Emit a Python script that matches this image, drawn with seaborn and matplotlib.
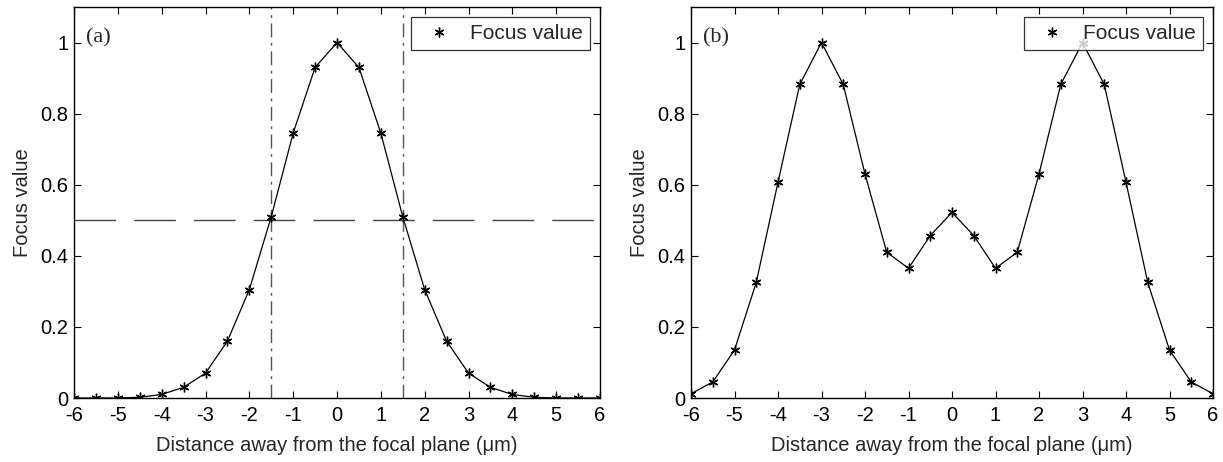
import numpy as np
import pandas as pd
import matplotlib
matplotlib.use("Agg")
import matplotlib.pyplot as plt
import seaborn as sns
from matplotlib.lines import Line2D

# distance from focal plane (um), step 0.5
distance = [-6, -5.5, -5, -4.5, -4, -3.5, -3, -2.5, -2, -1.5, -1, -0.5, 0,
            0.5, 1, 1.5, 2, 2.5, 3, 3.5, 4, 4.5, 5, 5.5, 6]

# (a) single-peak focus curve
focus_a = [0.0, 0.0, 0.0, 0.002, 0.01, 0.03, 0.07, 0.16, 0.305, 0.51, 0.745, 0.93, 1.0,
           0.93, 0.745, 0.51, 0.305, 0.16, 0.07, 0.03, 0.01, 0.002, 0.0, 0.0, 0.0]

# (b) double-peak focus curve
focus_b = [0.012, 0.045, 0.135, 0.325, 0.607, 0.882, 1.0, 0.882, 0.63, 0.41, 0.365, 0.457, 0.522,
           0.457, 0.365, 0.41, 0.63, 0.882, 1.0, 0.882, 0.607, 0.325, 0.135, 0.045, 0.012]

half_level = 0.5
fwhm_edges = [-1.5, 1.5]

x_ticks = [-6, -5, -4, -3, -2, -1, 0, 1, 2, 3, 4, 5, 6]
y_ticks = [0, 0.2, 0.4, 0.6, 0.8, 1.0]
y_ticklabels = ["0", "0.2", "0.4", "0.6", "0.8", "1"]

sns.set_style("ticks")
plt.rcParams["font.family"] = ["Liberation Sans", "DejaVu Sans"]
plt.rcParams["axes.linewidth"] = 1.0

fig = plt.figure(figsize=(12.23, 4.62), dpi=100)
ax_a = fig.add_axes([74 / 1223, 64 / 462, 526 / 1223, 391 / 462])
ax_b = fig.add_axes([691 / 1223, 64 / 462, 522 / 1223, 391 / 462])

star = (6, 2, 0)


def draw_panel(ax, values, tag):
    df = pd.DataFrame({"d": distance, "f": values})
    sns.lineplot(data=df, x="d", y="f", ax=ax, color="k", lw=0.9,
                 marker=star, markersize=7, markeredgewidth=1.0,
                 markeredgecolor="k", legend=False)
    ax.set_xlim(-6, 6)
    ax.set_ylim(0, 1.1)
    ax.set_xticks(x_ticks)
    ax.set_xticklabels([str(t) for t in x_ticks])
    ax.set_yticks(y_ticks)
    ax.set_yticklabels(y_ticklabels)
    ax.tick_params(direction="in", length=5, width=0.8, labelsize=14.5,
                   top=True, right=True, colors="k")
    ax.tick_params(axis="y", pad=4)
    ax.tick_params(axis="x", pad=6)
    for s in ax.spines.values():
        s.set_visible(True)
        s.set_color("k")
    ax.set_xlabel("Distance away from the focal plane (\u03bcm)", fontsize=14.5, labelpad=8)
    ax.set_ylabel("Focus value", fontsize=14.5, labelpad=6)
    ax.text(-5.72, 1.012, tag, fontsize=16, family="Liberation Serif", va="center", ha="left")
    handle = Line2D([], [], ls="none", marker=star, markersize=7,
                    markeredgewidth=1.0, color="k")
    leg = ax.legend([handle], ["Focus value"], loc="upper right", fontsize=15,
                    frameon=True, fancybox=False, borderaxespad=0.5,
                    handletextpad=0.5, borderpad=0.33, handlelength=2.0)
    leg.get_frame().set_edgecolor("k")
    leg.get_frame().set_linewidth(0.9)


draw_panel(ax_a, focus_a, "(a)")
ax_a.axhline(half_level, color="#444444", lw=1.0, ls=(0, (30, 13)), zorder=1)
for e in fwhm_edges:
    ax_a.axvline(e, color="#555555", lw=1.0, ls=(0, (10, 4, 2, 4)), zorder=1)

draw_panel(ax_b, focus_b, "(b)")

fig.savefig("out.png", dpi=100)
